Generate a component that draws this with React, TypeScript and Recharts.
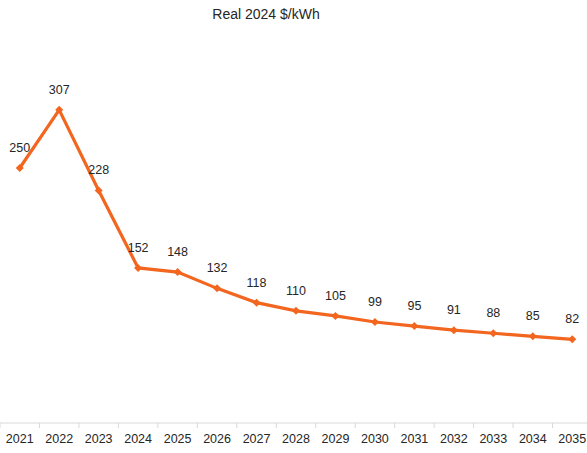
import React from "react";
import { LineChart, Line, XAxis, YAxis, LabelList } from "recharts";

const YEARS = ["2021", "2022", "2023", "2024", "2025", "2026", "2027", "2028", "2029", "2030", "2031", "2032", "2033", "2034", "2035"];
const COST = [250, 307, 228, 152, 148, 132, 118, 110, 105, 99, 95, 91, 88, 85, 82];
const Y_DOMAIN = [0, 350];

const ORANGE = "#F2661F";
const AXIS = "#d9d9d9";
const TEXT = "#262626";
const FONT = "'Liberation Sans', Arial, sans-serif";

const W = 592;
const H = 453;
const data = YEARS.map((y, i) => ({ year: y, cost: COST[i] }));
const STEP = W / YEARS.length;

const Diamond = (p: any) => {
  const { cx, cy } = p;
  if (cx == null || cy == null) return null;
  const r = 4;
  return <polygon points={`${cx},${cy - r} ${cx + r},${cy} ${cx},${cy + r} ${cx - r},${cy}`} fill={ORANGE} />;
};

const YearTick = (p: any) => {
  const { x, y, payload, index } = p;
  return (
    <g>
      <line x1={x - STEP / 2} x2={x - STEP / 2} y1={y - 8} y2={y - 3} stroke={AXIS} />
      {index === YEARS.length - 1 && <line x1={x + STEP / 2} x2={x + STEP / 2} y1={y - 8} y2={y - 3} stroke={AXIS} />}
      <text x={x} y={y + 12} textAnchor="middle" fill={TEXT} fontSize={12.5} fontFamily={FONT}>{payload.value}</text>
    </g>
  );
};

export default function App() {
  return (
    <div style={{ position: "absolute", left: 0, top: 0, width: 587, height: 453, overflow: "hidden", background: "#fff" }}>
      <div style={{ position: "absolute", left: 266, top: 6, transform: "translateX(-50%)", fontFamily: FONT, fontSize: 14, color: TEXT, whiteSpace: "nowrap" }}>
        Real 2024 $/kWh
      </div>
      <LineChart width={W} height={H} data={data} margin={{ top: 66, right: 0, bottom: 0, left: 0 }}>
        <XAxis dataKey="year" scale="band" height={30} stroke={AXIS} tickLine={false} tick={<YearTick />} interval={0} />
        <YAxis hide domain={Y_DOMAIN} />
        <Line dataKey="cost" stroke={ORANGE} strokeWidth={3.2} dot={<Diamond />} activeDot={false} isAnimationActive={false}>
          <LabelList dataKey="cost" position="top" offset={16} fill={TEXT} fontSize={12.5} fontFamily={FONT} />
        </Line>
      </LineChart>
    </div>
  );
}
